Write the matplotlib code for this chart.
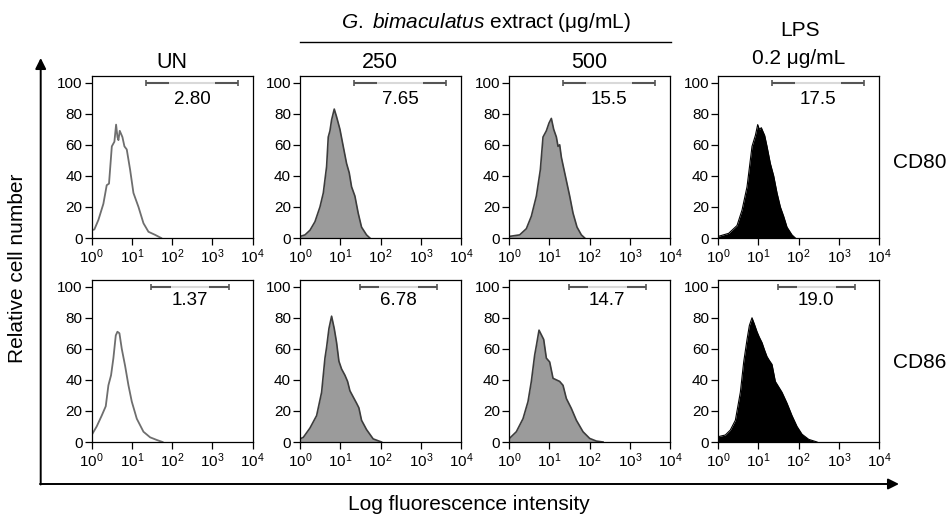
#!/usr/bin/env python3
"""
Flow cytometry histograms: CD80 / CD86 expression after G. bimaculatus extract or LPS.
"""

import numpy as np
import matplotlib
matplotlib.use('Agg')
import matplotlib.pyplot as plt
from matplotlib.patches import FancyArrowPatch
from matplotlib.lines import Line2D

plt.rcParams['font.family'] = ['Liberation Sans', 'DejaVu Sans']
plt.rcParams['mathtext.fontset'] = 'custom'
plt.rcParams['mathtext.rm'] = 'Liberation Sans'
plt.rcParams['mathtext.it'] = 'Liberation Sans:italic'

# --- Data (x in log10 decades of fluorescence, y = relative cell number) ---
COLUMNS = ['UN', '250', '500', 'LPS']
MARKERS = ['CD80', 'CD86']
CD80_PCT = ['2.80', '7.65', '15.5', '17.5']
CD86_PCT = ['1.37', '6.78', '14.7', '19.0']

UN_CD80_LOGX = [0, 0.066, 0.166, 0.29, 0.373, 0.43, 0.5, 0.564, 0.606, 0.64, 0.664, 0.697,
                0.73, 0.763, 0.813, 0.871, 0.954, 1.037, 1.162, 1.286, 1.41, 1.577, 1.726]
UN_CD80_Y = [5, 5.5, 11.6, 22, 34, 35, 59, 62, 73, 65, 63, 69,
             67, 65, 59, 57, 44, 29, 20, 9.5, 4, 2, 0]

G250_CD80_LOGX = [0, 0.124, 0.248, 0.372, 0.496, 0.579, 0.661, 0.702, 0.744, 0.785, 0.851,
                  0.909, 0.992, 1.074, 1.157, 1.223, 1.281, 1.364, 1.446, 1.529, 1.653, 1.736]
G250_CD80_Y = [1, 2, 5, 10.5, 20, 29, 46, 65, 69, 76, 83,
               78, 70, 59, 48, 42, 33, 27, 16, 7, 2, 0]

G500_CD80_LOGX = [0, 0.265, 0.431, 0.555, 0.68, 0.779, 0.845, 0.928, 0.994, 1.052, 1.11,
                  1.177, 1.218, 1.259, 1.301, 1.342, 1.425, 1.508, 1.591, 1.69, 1.798, 1.881]
G500_CD80_Y = [1, 2, 6, 14, 27, 44, 65, 69, 74, 77, 70,
               65, 59, 60, 52, 47, 37, 27, 16, 7, 2, 0]

LPS_CD80_LOGX = [0, 0.265, 0.472, 0.597, 0.721, 0.845, 0.928, 0.986, 1.027, 1.077, 1.11,
                 1.16, 1.218, 1.301, 1.384, 1.467, 1.55, 1.632, 1.715, 1.839, 1.922]
LPS_CD80_Y = [1, 3, 8, 18, 33, 59, 66, 73, 70, 71, 69,
              66, 59, 48, 40, 29, 20, 14, 7, 2, 0]

UN_CD86_LOGX = [0, 0.124, 0.249, 0.349, 0.415, 0.481, 0.539, 0.598, 0.639, 0.689, 0.747,
                0.83, 0.913, 0.996, 1.12, 1.286, 1.452, 1.618, 1.76]
UN_CD86_Y = [4.5, 10, 17, 23, 36.5, 43, 54, 68.6, 71, 70, 60,
             49, 36.5, 26, 15, 6.6, 3, 1.3, 0]

G250_CD86_LOGX = [0, 0.083, 0.248, 0.413, 0.537, 0.62, 0.661, 0.719, 0.785, 0.851, 0.909, 0.967,
                  1.033, 1.116, 1.182, 1.24, 1.322, 1.405, 1.463, 1.529, 1.653, 1.818, 2.025]
G250_CD86_Y = [2, 3, 9, 17, 32, 54, 61, 73, 81, 73, 64, 52,
               47, 43, 39, 33, 29, 25, 22, 14, 8, 2, 0]

G500_CD86_LOGX = [0, 0.182, 0.348, 0.472, 0.555, 0.638, 0.68, 0.746, 0.804, 0.862, 0.928, 1.011,
                  1.094, 1.177, 1.259, 1.342, 1.425, 1.549, 1.674, 1.839, 2.005, 2.17, 2.336]
G500_CD86_Y = [2, 6.6, 15, 26, 39, 56, 62, 72, 69, 66, 54, 51.5,
               41, 40, 39, 36.5, 28, 21.6, 14, 6.6, 2.3, 0.6, 0]

LPS_CD86_LOGX = [0, 0.182, 0.306, 0.431, 0.555, 0.638, 0.721, 0.779, 0.845, 0.903, 0.97, 1.027,
                 1.094, 1.16, 1.218, 1.276, 1.342, 1.425, 1.508, 1.591, 1.715, 1.839, 1.964,
                 2.088, 2.254, 2.461]
LPS_CD86_Y = [3.4, 4.5, 7.7, 14, 32, 51.5, 66, 75, 80, 76, 71, 67.5,
              64, 59, 55, 52.5, 50, 39, 35.5, 32, 25, 17, 10, 5, 1.7, 0]

# gate bar bounds (log10 decades) per row
GATE_CD80 = (1.35, 3.63)
GATE_CD86 = (1.48, 3.40)

CURVES = {
    ('CD80', 'UN'): (UN_CD80_LOGX, UN_CD80_Y),
    ('CD80', '250'): (G250_CD80_LOGX, G250_CD80_Y),
    ('CD80', '500'): (G500_CD80_LOGX, G500_CD80_Y),
    ('CD80', 'LPS'): (LPS_CD80_LOGX, LPS_CD80_Y),
    ('CD86', 'UN'): (UN_CD86_LOGX, UN_CD86_Y),
    ('CD86', '250'): (G250_CD86_LOGX, G250_CD86_Y),
    ('CD86', '500'): (G500_CD86_LOGX, G500_CD86_Y),
    ('CD86', 'LPS'): (LPS_CD86_LOGX, LPS_CD86_Y),
}

# --- Layout (pixels) ---
W, H = 947, 517
DPI = 100
COL_LEFT = [91.7, 300, 509, 718]
ROW_TOP = [76, 280]
AX_W, AX_H = 161, 162
GATE_DARK = '#555555'
GATE_LIGHT = '#d9d9d9'


def fx(x):
    return x / W


def fy(y):
    return 1 - y / H


def draw_panel(ax, marker, col, pct, gate):
    logx, y = CURVES[(marker, col)]
    x = 10 ** np.array(logx)
    if col == 'UN':
        ax.plot(x, y, color='#6e6e6e', lw=1.3)
    elif col == 'LPS':
        ax.fill_between(x, y, 0, color='black', lw=0)
        ax.plot(x, y, color='black', lw=0.8)
    else:
        ax.fill_between(x, y, 0, color='#9b9b9b', lw=0)
        ax.plot(x, y, color='#3c3c3c', lw=1.2)

    ax.set_xscale('log')
    ax.set_xlim(1, 1e4)
    ax.set_ylim(0, 104.3)
    ax.set_xticks([1, 10, 100, 1000, 10000])
    ax.set_xticklabels([r'$\mathregular{10^{%d}}$' % i for i in range(5)])
    ax.minorticks_off()
    ax.set_yticks([0, 20, 40, 60, 80, 100])
    ax.tick_params(direction='out', length=5, width=0.9, labelsize=11, pad=1.5)
    for s in ax.spines.values():
        s.set_linewidth(0.9)

    # gate bar
    g0, g1 = gate
    d = 0.25 * (g1 - g0)
    ax.plot(10 ** np.array([g0 + d, g1 - d]), [100, 100], color=GATE_LIGHT, lw=1.5,
            solid_capstyle='butt', clip_on=False)
    for a, b in [(g0, g0 + d), (g1 - d, g1)]:
        ax.plot(10 ** np.array([a, b]), [100, 100], color=GATE_DARK, lw=1.5,
                solid_capstyle='butt', clip_on=False)
    ax.plot(10 ** np.array([g0, g1]), [100, 100], ls='none', marker='|', ms=5,
            mew=1.2, color=GATE_DARK, clip_on=False)
    ty = 89 if marker == 'CD80' else 91
    ax.text(10 ** ((g0 + g1) / 2), ty, pct, ha='center', va='center', fontsize=13.5)


def main():
    fig = plt.figure(figsize=(W / DPI, H / DPI), dpi=DPI)
    fig.set_facecolor('white')

    for r, marker in enumerate(MARKERS):
        pcts = CD80_PCT if marker == 'CD80' else CD86_PCT
        gate = GATE_CD80 if marker == 'CD80' else GATE_CD86
        for c, col in enumerate(COLUMNS):
            ax = fig.add_axes([fx(COL_LEFT[c]), fy(ROW_TOP[r] + AX_H), fx(AX_W), AX_H / H])
            draw_panel(ax, marker, col, pcts[c], gate)

    # column headers
    fig.text(fx(486), fy(23), r'$\mathit{G.\ bimaculatus}$ extract (μg/mL)',
             ha='center', va='center', fontsize=15)
    fig.add_artist(Line2D([fx(300), fx(670.5)], [fy(42), fy(42)], color='black', lw=1.0))
    fig.text(fx(172), fy(62), 'UN', ha='center', va='center', fontsize=15.5)
    fig.text(fx(380), fy(62), '250', ha='center', va='center', fontsize=15.5)
    fig.text(fx(589), fy(62), '500', ha='center', va='center', fontsize=15.5)
    fig.text(fx(800), fy(31), 'LPS', ha='center', va='center', fontsize=15)
    fig.text(fx(799), fy(59), '0.2 μg/mL', ha='center', va='center', fontsize=15)

    # row labels
    fig.text(fx(920), fy(163), 'CD80', ha='center', va='center', fontsize=15)
    fig.text(fx(920), fy(362), 'CD86', ha='center', va='center', fontsize=15)

    # outer axes arrows
    fig.add_artist(FancyArrowPatch((fx(40.7), fy(484.5)), (fx(40.7), fy(58)),
                                   transform=fig.transFigure, arrowstyle='-|>',
                                   mutation_scale=16, lw=1.4, color='black',
                                   shrinkA=0, shrinkB=0))
    fig.add_artist(FancyArrowPatch((fx(40), fy(484)), (fx(899), fy(484)),
                                   transform=fig.transFigure, arrowstyle='-|>',
                                   mutation_scale=16, lw=1.4, color='black',
                                   shrinkA=0, shrinkB=0))
    fig.text(fx(18), fy(268), 'Relative cell number', rotation=90,
             ha='center', va='center', fontsize=15)
    fig.text(fx(469), fy(505), 'Log fluorescence intensity',
             ha='center', va='center', fontsize=15)

    fig.savefig('out.png', dpi=DPI, facecolor='white')
    plt.close(fig)


if __name__ == '__main__':
    main()
